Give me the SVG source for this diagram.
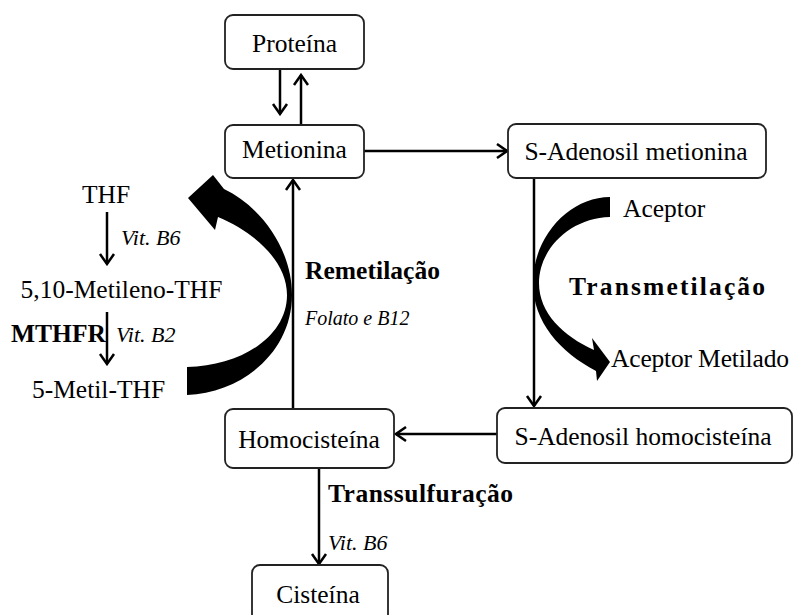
<svg xmlns="http://www.w3.org/2000/svg" width="795" height="615" viewBox="0 0 795 615" font-family="Liberation Serif, Times New Roman, serif">
<style>
.box{fill:#fff;stroke:#222;stroke-width:1.8}
.t{font-size:25.5px;fill:#000}
.c{text-anchor:middle}
.b{font-weight:bold}
.i{font-style:italic;font-size:20px}
.v{font-style:italic;font-size:22px}
.ln{fill:none;stroke:#000;stroke-width:2.5}
.big{fill:#000;stroke:none}
</style>
<defs>
<marker id="ah" viewBox="-13 -9 15 18" refX="0" refY="0" markerWidth="15" markerHeight="18" markerUnits="userSpaceOnUse" orient="auto">
<path d="M-10,-7 L0,0 L-10,7" fill="none" stroke="#000" stroke-width="2.5"/>
</marker>
</defs>
<rect width="795" height="615" fill="#fff"/>
<g id="connectors">
<line class="ln" x1="280" y1="69" x2="280" y2="114" marker-end="url(#ah)"/>
<line class="ln" x1="301" y1="125" x2="301" y2="75" marker-end="url(#ah)"/>
<line class="ln" x1="364" y1="151" x2="507" y2="151" marker-end="url(#ah)"/>
<line class="ln" x1="534" y1="178" x2="534" y2="406" marker-end="url(#ah)"/>
<line class="ln" x1="497" y1="434" x2="396" y2="434" marker-end="url(#ah)"/>
<line class="ln" x1="293" y1="409" x2="293" y2="180" marker-end="url(#ah)"/>
<line class="ln" x1="319" y1="469" x2="319" y2="564" marker-end="url(#ah)"/>
<line class="ln" x1="107" y1="212" x2="107" y2="264" marker-end="url(#ah)"/>
<line class="ln" x1="107" y1="312" x2="107" y2="364" marker-end="url(#ah)"/>
<path id="remetilacao-arrow" class="big" d="M187,395 C242,393 292,352 292,295 C292,250 262,207 224,189 L213,175 L188,198 L215,230 L218,217 C256,233 287,262 287,295 C287,336 242,366 187,367 Z"/>
<path id="transmetilacao-arrow" class="big" d="M610,197 C570,197 533,236 533,283 C533,322 560,352 596,371 L597,381 L610,362 L592,338 L594,350 C563,336 539,313 539,283 C539,249 570,218 610,217 Z"/>
</g>
<g id="proteina">
<rect class="box" x="225" y="15" width="139" height="54" rx="8"/>
<text class="t c" x="294.5" y="52">Proteína</text>
</g>
<g id="metionina">
<rect class="box" x="225" y="125" width="139" height="53" rx="8"/>
<text class="t c" x="294.5" y="158">Metionina</text>
</g>
<g id="sam">
<rect class="box" x="508" y="124" width="258" height="54" rx="8"/>
<text class="t c" x="636" y="160">S-Adenosil metionina</text>
</g>
<g id="sah">
<rect class="box" x="497" y="408" width="295" height="55" rx="8"/>
<text class="t c" x="643" y="445">S-Adenosil homocisteína</text>
</g>
<g id="homocisteina">
<rect class="box" x="225" y="409" width="169" height="59" rx="8"/>
<text class="t c" x="309" y="448">Homocisteína</text>
</g>
<g id="cisteina">
<rect class="box" x="252" y="565" width="136" height="60" rx="8"/>
<text class="t c" x="318" y="603">Cisteína</text>
</g>
<g id="labels">
<text class="t c" x="106" y="203">THF</text>
<text class="t c" x="121.5" y="298">5,10-Metileno-THF</text>
<text class="t c" x="98.5" y="398">5-Metil-THF</text>
<text class="t v" x="121" y="245">Vit. B6</text>
<text class="t v" x="116" y="342">Vit. B2</text>
<text class="t b" x="11" y="342" font-size="18">MTHFR</text>
<text class="t b" x="305" y="279" textLength="135">Remetilação</text>
<text class="t i" x="305" y="325">Folato e B12</text>
<text class="t b" x="569" y="295" textLength="196">Transmetilação</text>
<text class="t" x="623" y="217">Aceptor</text>
<text class="t" x="611" y="367" textLength="178">Aceptor Metilado</text>
<text class="t b" x="328" y="502" textLength="185">Transsulfuração</text>
<text class="t v" x="328" y="550">Vit. B6</text>
</g>
</svg>
